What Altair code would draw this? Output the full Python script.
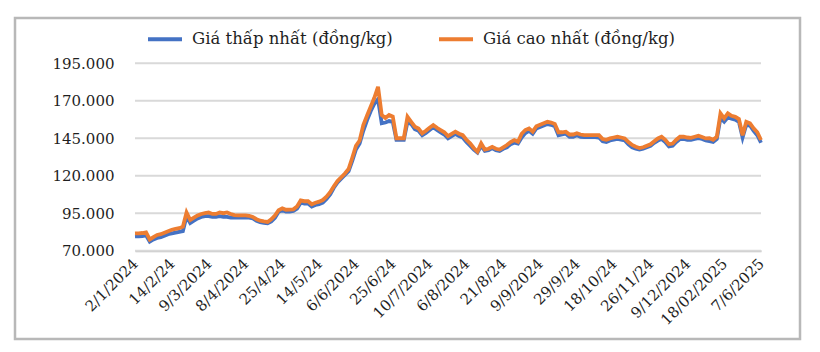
import altair as alt
import pandas as pd

# Tick labels (category axis, one every 10 points)
tick_labels = ["2/1/2024", "14/2/24", "9/3/2024", "8/4/2024", "25/4/24", "14/5/24",
               "6/6/2024", "25/6/24", "10/7/2024", "6/8/2024", "21/8/24", "9/9/2024",
               "29/9/24", "18/10/24", "26/11/24", "9/12/2024", "18/02/2025", "7/6/2025"]
y_ticks = [70000, 95000, 120000, 145000, 170000, 195000]

name_low = "Giá thấp nhất (đồng/kg)"
name_high = "Giá cao nhất (đồng/kg)"

# Highest price (thousand đồng/kg)
high = [81.5, 81.6, 81.8, 82.2, 77.5, 79, 80.5, 81, 82, 83,
        84, 84.5, 85, 86, 95.5, 90.5, 92, 93.5, 94.5, 95,
        95.5, 94.5, 94.5, 95.5, 95, 95.5, 94.5, 93.8, 93.5, 93.5,
        93.5, 93.3, 92.5, 91, 90, 89.5, 89.2, 91, 93.5, 97,
        98.3, 97.3, 97.4, 97.6, 99.5, 103.5, 103, 103, 101, 102,
        102.7, 103.8, 106, 109, 113, 116.5, 119, 121.5, 124.5, 132,
        140, 143.5, 153.8, 160, 166, 172, 179.3, 160.5, 158.5, 160.5,
        159.4, 145, 145, 145, 159.4, 156, 152.7, 151.5, 148.3, 150,
        152, 153.8, 152, 150.5, 149, 146.5, 148, 149.4, 148, 147.1,
        144, 141.6, 138.5, 136, 141.6, 137.5, 138, 139.3, 138, 137.5,
        139, 140.5, 142.5, 143.8, 142.7, 148, 150.5, 151.6, 149.4, 153,
        154, 155, 156, 155.5, 154.5, 149, 149, 149.4, 147.5, 147.5,
        148.3, 147.5, 147.1, 147.1, 147.1, 147.1, 147.1, 144.5, 144, 144.9,
        145.5, 146, 145.5, 144.9, 142.5, 140.5, 139.3, 138.5, 139, 140,
        141, 143, 144.9, 146, 144, 141, 141.5, 144, 146, 146,
        145.5, 145.3, 146, 146.7, 145.8, 144.9, 145, 144, 146, 161.6,
        158.3, 161.6, 160, 159.3, 157.8, 147, 156, 155, 151.6, 149,
        143.8]

# Lowest price (thousand đồng/kg)
low = [79.5, 79.6, 79.8, 80.2, 76, 77.5, 78.5, 79, 80, 81,
       81.5, 82, 82.5, 83, 93, 88.5, 90, 91.5, 92.5, 93,
       93, 92.5, 92.5, 93, 92.5, 92.5, 92, 92, 92, 92,
       92, 92, 91.5, 90, 89, 88.5, 88.2, 89.5, 92, 96,
       97, 96, 96, 96.5, 98, 102, 101.5, 101.5, 99.5, 100.5,
       101, 102, 104.5, 107.5, 112, 115.5, 118, 120.5, 123, 130,
       137.5, 141.5, 150, 157, 163, 168, 171, 155, 155.5, 156.5,
       156, 144, 144, 144, 156, 154.5, 151, 150, 147, 148.5,
       150.5, 152.3, 150.5, 149, 147.5, 145, 146.5, 148, 146.5, 145.5,
       142.5, 140, 137.5, 135.5, 140, 136.5, 137, 138.5, 137, 136.5,
       138, 139, 141, 142, 141.5, 145.5, 148.5, 150, 148, 151.5,
       152.5, 153.5, 154.5, 154, 153, 147, 147.5, 148, 146, 146,
       147, 146, 145.8, 145.8, 145.8, 145.8, 145.5, 143, 142.5, 143.5,
       144, 144.5, 144, 143.5, 141, 139, 138, 137.5, 138, 139,
       140, 142, 143.5, 144.5, 142.5, 139.5, 140, 142.5, 144.5, 144.5,
       144, 144, 144.5, 145, 144.5, 143.5, 143, 142.5, 144.5, 158.5,
       156, 159, 158, 157.5, 156, 145.5, 154, 153.5, 150, 147,
       142]

n = len(high)
step = (n - 1) // (len(tick_labels) - 1)

rows = []
for i in range(n):
    rows.append({"idx": i, "value": low[i] * 1000, "series": name_low})
for i in range(n):
    rows.append({"idx": i, "value": high[i] * 1000, "series": name_high})
df = pd.DataFrame(rows)
grid_df = pd.DataFrame({"value": y_ticks})

FONT = "DejaVu Serif"
TXT = "#1f1f1f"

# Frame (view) occupies 15..800 x 18..339; plot area 135..761 x 63.3..250.7
VIEW_W, VIEW_H = 785, 321
X0, X1 = 120, 746
Y_TOP, Y_BOT = 45.3, 232.7

label_js = "[" + ",".join("'" + s + "'" for s in tick_labels) + "]"

x_scale = alt.Scale(domain=[0, n - 1], range=[X0, X1], nice=False, zero=False)
y_scale = alt.Scale(domain=[y_ticks[0], y_ticks[-1]], range=[Y_BOT, Y_TOP],
                    nice=False, zero=False)

x_enc = alt.X(
    "idx:Q", scale=x_scale,
    axis=alt.Axis(
        values=list(range(0, n, step)),
        labelExpr=label_js + "[round(datum.value/" + str(step) + ")]",
        labelAngle=-45, labelAlign="right", labelBaseline="middle",
        labelPadding=10, ticks=False, grid=False, domain=True,
        domainColor="#bfbfbf", domainWidth=2,
        offset=-(VIEW_H - Y_BOT),
        labelFont=FONT, labelFontSize=15, labelColor=TXT, title=None,
        labelOverlap=False, labelFlush=False,
    ),
)
y_axis = alt.Axis(
    values=y_ticks,
    labelExpr="replace(format(datum.value, ',.0f'), ',', '.')",
    ticks=False, domain=False, grid=False, offset=-X0,
    labelPadding=21, labelFont=FONT, labelFontSize=15, labelColor=TXT,
    title=None,
)
y_enc = alt.Y("value:Q", scale=y_scale, axis=y_axis)

color_scale = alt.Scale(domain=[name_low, name_high], range=["#4472C4", "#ED7D31"])
color_enc = alt.Color(
    "series:N", scale=color_scale,
    legend=alt.Legend(
        orient="none", legendX=131, legendY=2, direction="horizontal",
        title=None, symbolType="stroke", symbolStrokeWidth=4, symbolSize=1156,
        labelFont=FONT, labelFontSize=16.5, labelColor=TXT, columnPadding=38,
        labelLimit=400, labelOffset=8,
    ),
)

grid = alt.Chart(grid_df).mark_rule(color="#d9d9d9", strokeWidth=2).encode(
    y=y_enc, x=alt.datum(0, scale=x_scale), x2=alt.datum(n - 1))

base = alt.Chart(df)
line_low = base.transform_filter(alt.datum.series == name_low).mark_line(
    strokeWidth=3.8).encode(x=x_enc, y=y_enc, color=color_enc)
line_high = base.transform_filter(alt.datum.series == name_high).mark_line(
    strokeWidth=3.8).encode(x=x_enc, y=y_enc, color=color_enc)

chart = alt.layer(grid, line_low, line_high).properties(
    width=VIEW_W, height=VIEW_H,
    padding={"left": 15, "top": 18, "right": 20, "bottom": 13},
    autosize=alt.AutoSizeParams(type="none"),
    background="white",
).configure_view(stroke="#b8b8b8", strokeWidth=2.5)

chart.save("out.html", embed_options={"renderer": "svg", "actions": False})
